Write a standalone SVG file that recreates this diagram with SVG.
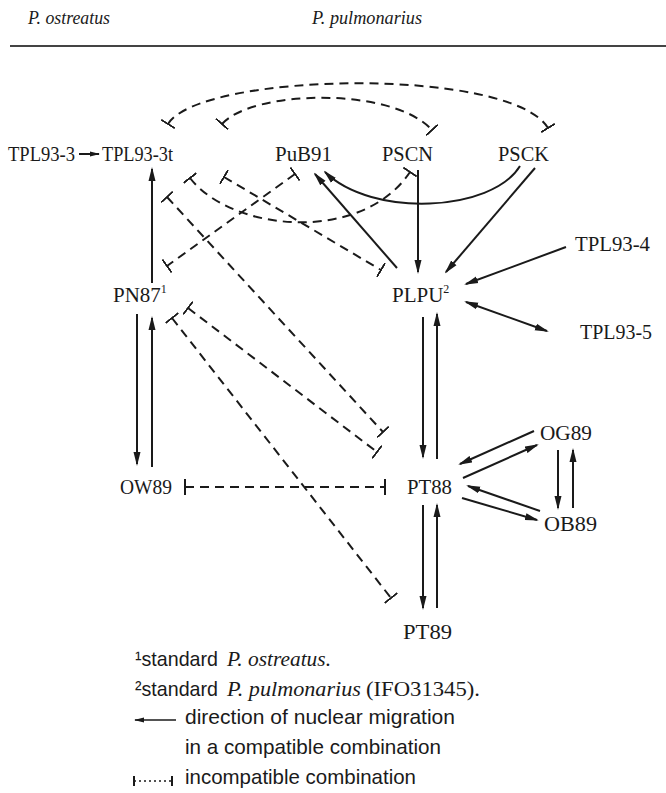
<svg xmlns="http://www.w3.org/2000/svg" width="666" height="793" viewBox="0 0 666 793">
<style>
.n{font-family:"Liberation Serif","Times New Roman",serif;font-size:21px;fill:#1a1a1a}
.it{font-family:"Liberation Serif","Times New Roman",serif;font-style:italic;fill:#1a1a1a}
.s{font-family:"Liberation Sans",Arial,sans-serif;font-size:21px;fill:#1a1a1a}
.sup{font-size:12px}
.c{fill:none;stroke:#1a1a1a;stroke-width:2}
.a{marker-end:url(#arr)}
.aa{marker-start:url(#arr);marker-end:url(#arr)}
.d{fill:none;stroke:#1a1a1a;stroke-width:2;stroke-dasharray:9 6;marker-start:url(#bar);marker-end:url(#bar)}
</style>
<defs>
<marker id="arr" viewBox="0 0 14 8" refX="12" refY="4" markerWidth="14" markerHeight="8" markerUnits="userSpaceOnUse" orient="auto-start-reverse"><path d="M0,0.5 L14,4 L0,7.5 Z" fill="#1a1a1a"/></marker>
<marker id="arrs" viewBox="0 0 10 6" refX="9" refY="3" markerWidth="10" markerHeight="6" markerUnits="userSpaceOnUse" orient="auto-start-reverse"><path d="M0,0.5 L10,3 L0,5.5 Z" fill="#1a1a1a"/></marker>
<marker id="bar" viewBox="0 0 2 16" refX="1" refY="8" markerWidth="2" markerHeight="16" markerUnits="userSpaceOnUse" orient="auto"><rect x="0" y="0" width="2" height="16" fill="#1a1a1a"/></marker>
<marker id="bars" viewBox="0 0 2 10" refX="1" refY="5" markerWidth="2" markerHeight="10" markerUnits="userSpaceOnUse" orient="auto"><rect x="0" y="0" width="2" height="10" fill="#1a1a1a"/></marker>
</defs>
<rect width="666" height="793" fill="#ffffff"/>

<g id="header">
<text class="it" x="28" y="24" font-size="19" textLength="82" lengthAdjust="spacingAndGlyphs">P. ostreatus</text>
<text class="it" x="312" y="24" font-size="19" textLength="110" lengthAdjust="spacingAndGlyphs">P. pulmonarius</text>
<line x1="10" y1="46" x2="666" y2="46" stroke="#444" stroke-width="2"/>
</g>

<g id="connectors">
<line class="c" x1="79" y1="154" x2="99" y2="154" marker-end="url(#arrs)"/>
<line class="c a" x1="152" y1="283" x2="152" y2="169"/>
<line class="c a" x1="137" y1="314" x2="137" y2="464"/>
<line class="c a" x1="152" y1="467" x2="152" y2="318"/>
<line class="c a" x1="418" y1="170" x2="418" y2="272"/>
<line class="c a" x1="535" y1="168" x2="446" y2="272"/>
<line class="c a" x1="397" y1="268" x2="315" y2="174"/>
<path class="c a" d="M520,166 C492,212 372,218 325,172"/>
<line class="c a" x1="566" y1="247" x2="466" y2="284"/>
<line class="c aa" x1="466" y1="302" x2="547" y2="331"/>
<line class="c a" x1="423" y1="317" x2="423" y2="457"/>
<line class="c a" x1="437" y1="459" x2="437" y2="314"/>
<line class="c a" x1="423" y1="505" x2="423" y2="608"/>
<line class="c a" x1="437" y1="608" x2="437" y2="505"/>
<line class="c a" x1="534" y1="431" x2="460" y2="464"/>
<line class="c a" x1="463" y1="478" x2="537" y2="445"/>
<line class="c a" x1="540" y1="511" x2="468" y2="486"/>
<line class="c a" x1="462" y1="498" x2="537" y2="520"/>
<line class="c a" x1="558" y1="450" x2="558" y2="508"/>
<line class="c a" x1="573" y1="508" x2="573" y2="450"/>
<path class="d" d="M168,124 C200,72 510,66 548,128"/>
<path class="d" d="M222,124 C252,90 392,86 432,130"/>
<path class="d" d="M190,178 C232,232 362,244 410,172"/>
<line class="d" x1="224" y1="177" x2="381" y2="270"/>
<line class="d" x1="167" y1="197" x2="383" y2="432"/>
<line class="d" x1="295" y1="174" x2="167" y2="266"/>
<line class="d" x1="188" y1="308" x2="377" y2="452"/>
<line class="d" x1="172" y1="318" x2="391" y2="598"/>
<line class="d" x1="185" y1="487" x2="385" y2="487"/>
</g>

<g id="TPL93-3"><text class="n" x="8" y="161" textLength="67" lengthAdjust="spacingAndGlyphs">TPL93-3</text></g>
<g id="TPL93-3t"><text class="n" x="102" y="161" textLength="71" lengthAdjust="spacingAndGlyphs">TPL93-3t</text></g>
<g id="PuB91"><text class="n" x="275" y="161" textLength="57" lengthAdjust="spacingAndGlyphs">PuB91</text></g>
<g id="PSCN"><text class="n" x="382" y="161" textLength="51" lengthAdjust="spacingAndGlyphs">PSCN</text></g>
<g id="PSCK"><text class="n" x="498" y="161" textLength="51" lengthAdjust="spacingAndGlyphs">PSCK</text></g>
<g id="PN87"><text class="n" x="113" y="302">PN87<tspan class="sup" dy="-9">1</tspan></text></g>
<g id="PLPU"><text class="n" x="392" y="302">PLPU<tspan class="sup" dy="-9">2</tspan></text></g>
<g id="TPL93-4"><text class="n" x="575" y="251" textLength="75" lengthAdjust="spacingAndGlyphs">TPL93-4</text></g>
<g id="TPL93-5"><text class="n" x="580" y="339" textLength="72" lengthAdjust="spacingAndGlyphs">TPL93-5</text></g>
<g id="OW89"><text class="n" x="120" y="494" textLength="52" lengthAdjust="spacingAndGlyphs">OW89</text></g>
<g id="PT88"><text class="n" x="407" y="494" textLength="45" lengthAdjust="spacingAndGlyphs">PT88</text></g>
<g id="OG89"><text class="n" x="540" y="440" textLength="52" lengthAdjust="spacingAndGlyphs">OG89</text></g>
<g id="OB89"><text class="n" x="544" y="531" textLength="53" lengthAdjust="spacingAndGlyphs">OB89</text></g>
<g id="PT89"><text class="n" x="403" y="639" textLength="49" lengthAdjust="spacingAndGlyphs">PT89</text></g>

<g id="legend">
<text class="s" x="135" y="666" textLength="83" lengthAdjust="spacingAndGlyphs">¹standard</text>
<text class="it" x="227" y="666" font-size="21" textLength="104" lengthAdjust="spacingAndGlyphs">P. ostreatus.</text>
<text class="s" x="135" y="696" textLength="83" lengthAdjust="spacingAndGlyphs">²standard</text>
<text class="it" x="227" y="696" font-size="21" textLength="134" lengthAdjust="spacingAndGlyphs">P. pulmonarius</text>
<text class="n" x="366" y="696" textLength="114" lengthAdjust="spacingAndGlyphs">(IFO31345).</text>
<line x1="176" y1="720" x2="135" y2="720" stroke="#1a1a1a" stroke-width="1.5" marker-end="url(#arrs)"/>
<text class="s" x="185" y="724" textLength="270" lengthAdjust="spacingAndGlyphs">direction of nuclear migration</text>
<text class="s" x="185" y="754" textLength="256" lengthAdjust="spacingAndGlyphs">in a compatible combination</text>
<line x1="134" y1="781" x2="172" y2="781" stroke="#1a1a1a" stroke-width="1.5" stroke-dasharray="2 3" marker-start="url(#bars)" marker-end="url(#bars)"/>
<text class="s" x="185" y="784" textLength="231" lengthAdjust="spacingAndGlyphs">incompatible combination</text>
</g>
</svg>
